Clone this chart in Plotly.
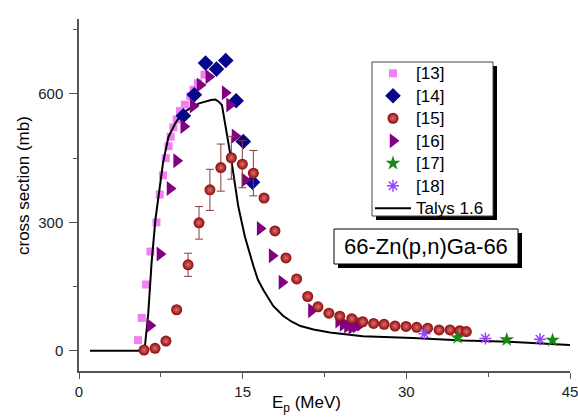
import plotly.graph_objects as go

# ---------------- data ----------------
talys_E = [1.0, 6.0, 6.35, 6.65, 7.0, 7.3, 7.7, 8.2, 8.9, 9.5, 10.2, 11.0, 11.6, 12.1, 12.5,
           12.8, 13.1, 13.5, 14.0, 14.6, 15.2, 16.0, 16.4, 16.9, 17.8, 18.7, 19.5, 20.3,
           21.5, 23.0, 26.0, 30.6, 35.2, 39.8, 45.0]
talys_xs = [0, 0, 88, 205, 306, 368, 439, 500, 535, 555, 567, 578, 583, 586, 587,
            582, 574, 516, 439, 337, 267, 197, 166, 142, 105, 82, 68, 58,
            50, 43, 34, 30, 24, 21, 14]

r13_E = [5.4, 5.75, 6.15, 6.55, 7.1, 7.4, 7.7, 7.95, 8.2, 8.4, 8.65, 8.95, 9.25, 9.7, 10.2, 10.5, 10.9, 11.5]
r13_xs = [25, 77, 155, 232, 300, 365, 410, 450, 478, 500, 522, 540, 560, 575, 595, 610, 625, 645]

r14_E = [9.56, 10.57, 11.6, 12.6, 13.45, 14.4, 15.06, 15.9]
r14_xs = [549, 598, 672, 658, 678, 584, 489, 394]

r15_E = [5.96, 6.97, 7.97, 8.95, 10.0, 11.0, 12.0, 13.0, 13.96, 14.97, 15.98, 16.96, 17.96,
         18.97, 19.95, 20.96, 21.9, 22.9, 23.9, 25.0, 26.0, 27.0, 27.96, 28.96, 29.97, 30.95,
         31.95, 33.0, 34.0, 34.9, 35.5]
r15_xs = [2, 6, 23, 96, 201, 299, 376, 428, 451, 436, 415, 357, 280,
          217, 168, 127, 103, 88, 81, 75, 68, 64, 62, 58, 57, 55,
          53, 49, 49, 47, 45]
r15_err = [0, 0, 0, 0, 27, 38, 48, 55, 50, 55, 53, 0, 0,
           0, 0, 0, 0, 0, 0, 0, 0, 0, 0, 0, 0, 0,
           0, 0, 0, 0, 0]

r16_E = [6.5, 7.42, 8.34, 8.95, 9.6, 10.45, 11.1, 11.9, 13.4, 13.8, 14.3, 15.2, 16.6, 17.7,
         18.6, 21.3, 23.8, 24.2, 24.6, 25.0, 25.4, 25.8]
r16_xs = [59, 226, 379, 444, 524, 572, 621, 640, 603, 574, 502, 399, 286, 222,
          160, 94, 70, 62, 58, 55, 58, 62]

r17_E = [34.7, 39.2, 43.4]
r17_xs = [31, 26, 25]

r18_E = [31.65, 37.25, 42.25]
r18_xs = [40, 29, 27]

x_ticks = [0, 15, 30, 45]
y_ticks = [0, 300, 600]

# ---------------- layout geometry ----------------
W, H = 578, 418
L, R, T, B = 79, 8, 19, 47
PW, PH = W - L - R, H - T - B


def px_x(px):
    return (px - L) / PW


def px_y(py):
    return (H - B - py) / PH


def leg(name):
    return "<span style='font-size:17px'>%s</span>" % name


FONT = "Liberation Sans, Arial, sans-serif"

fig = go.Figure()

fig.add_trace(go.Scatter(x=r13_E, y=r13_xs, mode="markers", name=leg("[13]"), legendrank=1,
                         marker=dict(symbol="square", size=8, color="#f27ef2")))
fig.add_trace(go.Scatter(x=talys_E, y=talys_xs, mode="lines", name=leg("Talys 1.6"), legendrank=7,
                         line=dict(color="black", width=2)))
fig.add_trace(go.Scatter(x=r14_E, y=r14_xs, mode="markers", name=leg("[14]"), legendrank=2,
                         marker=dict(symbol="diamond", size=12, color="#06068c")))
fig.add_trace(go.Scatter(x=r16_E, y=r16_xs, mode="markers", name=leg("[16]"), legendrank=4,
                         marker=dict(symbol="triangle-right", size=13, color="#820082")))
fig.add_trace(go.Scatter(x=r15_E, y=r15_xs, mode="markers", name=leg("[15]"), legendrank=3,
                         error_y=dict(type="data", array=r15_err, color="#8b3a3a",
                                      thickness=1, width=4),
                         marker=dict(symbol="circle", size=11, color="#8b0a0a",
                                     gradient=dict(type="radial", color="#e07070"))))
fig.add_trace(go.Scatter(x=r17_E, y=r17_xs, mode="markers", name=leg("[17]"), legendrank=5,
                         marker=dict(symbol="star", size=11, color="#168a16")))
fig.add_trace(go.Scatter(x=r18_E, y=r18_xs, mode="markers", name=leg("[18]"), legendrank=6,
                         marker=dict(symbol="asterisk-open", size=10, color="#9a40ff",
                                     line=dict(color="#9a40ff", width=1.5))))

axis_common = dict(showline=True, linecolor="#555555", linewidth=1.5, showgrid=False,
                   zeroline=False, ticks="outside", tickcolor="#555555",
                   tickwidth=1.2, ticklabeloverflow="allow",
                   tickfont=dict(family=FONT, size=15, color="#222222"))

fig.update_xaxes(range=[0, 45], tickvals=x_ticks, ticktext=[str(v) for v in x_ticks],
                 ticklen=6,
                 minor=dict(ticks="outside", ticklen=4, dtick=7.5, tick0=0,
                            tickcolor="#555555"),
                 **axis_common)
fig.update_yaxes(range=[-47, 775], tickvals=y_ticks, ticktext=[str(v) for v in y_ticks],
                 ticklen=8, ticklabelstandoff=3,
                 minor=dict(ticks="outside", ticklen=4, dtick=150, tick0=0,
                            tickcolor="#555555"),
                 **axis_common)

LEG = (372, 62, 493, 216)      # legend box in reference pixels
LAB = (334, 229, 518, 264)     # label box in reference pixels
SH = 4

shapes = [
    dict(type="rect", xref="paper", yref="paper", layer="above",
         x0=px_x(LEG[0] + SH), x1=px_x(LEG[2] + SH), y0=px_y(LEG[3] + SH), y1=px_y(LEG[1] + SH),
         fillcolor="black", line=dict(width=0)),
    dict(type="rect", xref="paper", yref="paper", layer="above",
         x0=px_x(LEG[0]), x1=px_x(LEG[2]), y0=px_y(LEG[3]), y1=px_y(LEG[1]),
         fillcolor="white", line=dict(color="#444444", width=1)),
    dict(type="rect", xref="paper", yref="paper", layer="above",
         x0=px_x(LAB[0] + SH), x1=px_x(LAB[2] + SH), y0=px_y(LAB[3] + SH), y1=px_y(LAB[1] + SH),
         fillcolor="black", line=dict(width=0)),
    dict(type="rect", xref="paper", yref="paper", layer="above",
         x0=px_x(LAB[0]), x1=px_x(LAB[2]), y0=px_y(LAB[3]), y1=px_y(LAB[1]),
         fillcolor="white", line=dict(color="black", width=1)),
]

annotations = [
    dict(text="66-Zn(p,n)Ga-66", xref="paper", yref="paper",
         x=px_x((LAB[0] + LAB[2]) / 2), y=px_y((LAB[1] + LAB[3]) / 2),
         xanchor="center", yanchor="middle", showarrow=False,
         font=dict(family=FONT, size=22, color="black")),
    dict(text="cross section (mb)", xref="paper", yref="paper", x=px_x(23), y=px_y(186),
         xanchor="center", yanchor="middle", textangle=-90, showarrow=False,
         font=dict(family=FONT, size=17, color="black")),
    dict(text="E<sub>p</sub> (MeV)", xref="paper", yref="paper", x=px_x(306), y=px_y(404),
         xanchor="center", yanchor="middle", showarrow=False,
         font=dict(family=FONT, size=17, color="black")),
]

fig.update_layout(
    width=W, height=H, margin=dict(l=L, r=R, t=T, b=B, autoexpand=False),
    plot_bgcolor="white", paper_bgcolor="white",
    font=dict(family=FONT),
    showlegend=True,
    legend=dict(x=px_x(LEG[0] - 2), y=px_y(LEG[1] - 5), xanchor="left", yanchor="top",
                bgcolor="rgba(0,0,0,0)", borderwidth=0,
                font=dict(family=FONT, size=15, color="black"),
                traceorder="normal", itemwidth=36, tracegroupgap=0),
    shapes=shapes, annotations=annotations,
)

fig.write_html("out.html", config={"displayModeBar": False},
               post_script="document.body.style.margin='0';document.body.style.overflow='hidden';")
